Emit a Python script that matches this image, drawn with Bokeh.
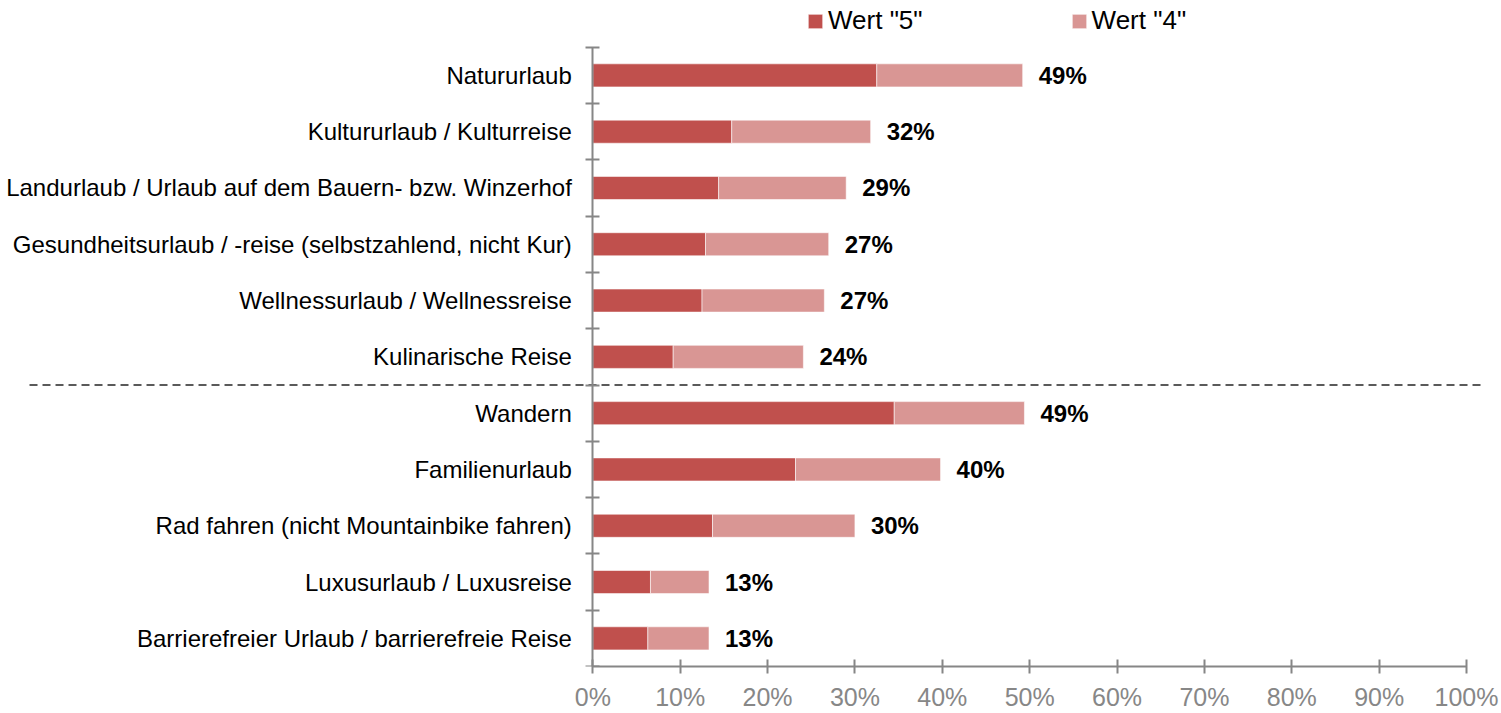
from bokeh.plotting import figure
from bokeh.models import (ColumnDataSource, Range1d, LinearAxis, FixedTicker, Legend, LegendItem)
from bokeh.embed import file_html
from bokeh.resources import INLINE
from bokeh.core.properties import value

# ---------------- data ----------------
categories = [
    "Natururlaub",
    "Kultururlaub / Kulturreise",
    "Landurlaub / Urlaub auf dem Bauern- bzw. Winzerhof",
    "Gesundheitsurlaub / -reise (selbstzahlend, nicht Kur)",
    "Wellnessurlaub / Wellnessreise",
    "Kulinarische Reise",
    "Wandern",
    "Familienurlaub",
    "Rad fahren (nicht Mountainbike fahren)",
    "Luxusurlaub / Luxusreise",
    "Barrierefreier Urlaub / barrierefreie Reise",
]
wert5 = [32.5, 15.9, 14.4, 12.9, 12.5, 9.2, 34.5, 23.2, 13.7, 6.6, 6.3]
wert4 = [16.7, 15.9, 14.6, 14.1, 14.0, 14.9, 14.9, 16.6, 16.3, 6.7, 7.0]
total_labels = ["49%", "32%", "29%", "27%", "27%", "24%", "49%", "40%", "30%", "13%", "13%"]
series_names = ['Wert "5"', 'Wert "4"']
tick_values = [0, 10, 20, 30, 40, 50, 60, 70, 80, 90, 100]
tick_labels = ["0%", "10%", "20%", "30%", "40%", "50%", "60%", "70%", "80%", "90%", "100%"]
separator_after = "Kulinarische Reise"

# ---------------- style / layout ----------------
C5 = "#C0504D"
C4 = "#D99694"
AX = "#868686"
FONT = "Liberation Sans"

W, H = 1500, 713
X_START, X_END = -67.79, 102.17   # frame spans canvas x 0..1485, 0% at ~592
Y_TOP_EXTRA = 0.83                 # room above the bars for the legend
SEP_X0, SEP_X1 = -64.47, 101.95

n = len(categories)
pos = [n - i - 0.5 for i in range(n)]          # first category at the top
bounds_y = list(range(n + 1))
totals = [a + b for a, b in zip(wert5, wert4)]
src = ColumnDataSource(dict(pos=pos, cat=categories, w5=wert5, w4=wert4,
                            total=totals, label=total_labels))

p = figure(width=W, height=H, output_backend="svg", toolbar_location=None,
           x_range=Range1d(X_START, X_END), y_range=Range1d(0, n + Y_TOP_EXTRA),
           y_axis_location=None,
           min_border_left=0, min_border_right=15, min_border_top=0, min_border_bottom=43)
p.outline_line_color = None
p.xgrid.visible = False
p.ygrid.visible = False
p.background_fill_color = "white"
p.border_fill_color = "white"

bars = p.hbar_stack(["w5", "w4"], y="pos", height=0.41, color=[C5, C4], source=src,
                    line_color="white", line_width=0.8, line_alpha=0.7)

p.text(x="total", y="pos", text="label", source=src, x_offset=16,
       text_align="left", text_baseline="middle",
       text_font=value(FONT), text_font_style="bold", text_font_size="24px", text_color="black")

# separator between groups
sep_y = n - (categories.index(separator_after) + 1)
p.segment(x0=[SEP_X0], y0=[sep_y], x1=[SEP_X1], y1=[sep_y],
          line_color="#5a5a5a", line_width=2, line_dash="8 5")

# x axis
xa = p.xaxis[0]
xa.bounds = (0, 100)
xa.ticker = FixedTicker(ticks=tick_values)
xa.major_label_overrides = {v: l for v, l in zip(tick_values, tick_labels)}
xa.axis_line_color = AX
xa.axis_line_width = 2
xa.major_tick_line_color = AX
xa.major_tick_line_width = 2
xa.major_tick_in = 7
xa.major_tick_out = 7
xa.minor_tick_line_color = None
xa.major_label_standoff = 9
xa.major_label_text_font = FONT
xa.major_label_text_font_size = "25px"
xa.major_label_text_color = "#878787"

# category axis at the 0 line: labels at centres, ticks at category boundaries
cat_axis = LinearAxis(fixed_location=0, bounds=(0, n),
                      ticker=FixedTicker(ticks=pos, minor_ticks=bounds_y),
                      major_label_overrides={v: c for v, c in zip(pos, categories)},
                      major_tick_in=0, major_tick_out=0, major_tick_line_color=None,
                      minor_tick_in=7, minor_tick_out=7,
                      minor_tick_line_color=AX, minor_tick_line_width=2,
                      axis_line_color=AX, axis_line_width=2,
                      major_label_standoff=14, major_label_text_font=FONT,
                      major_label_text_font_size="24px", major_label_text_color="black")
p.add_layout(cat_axis, "left")

legend = Legend(items=[LegendItem(label=series_names[0], renderers=[bars[0]]),
                       LegendItem(label=series_names[1], renderers=[bars[1]])],
                orientation="horizontal", location=(806, 630),
                label_text_font=FONT, label_text_font_size="26px", label_text_color="black",
                glyph_width=18, glyph_height=18, label_standoff=4, spacing=147,
                padding=0, margin=0, border_line_color=None, background_fill_alpha=0)
p.add_layout(legend)

open("out.html", "w").write(file_html(p, INLINE))
